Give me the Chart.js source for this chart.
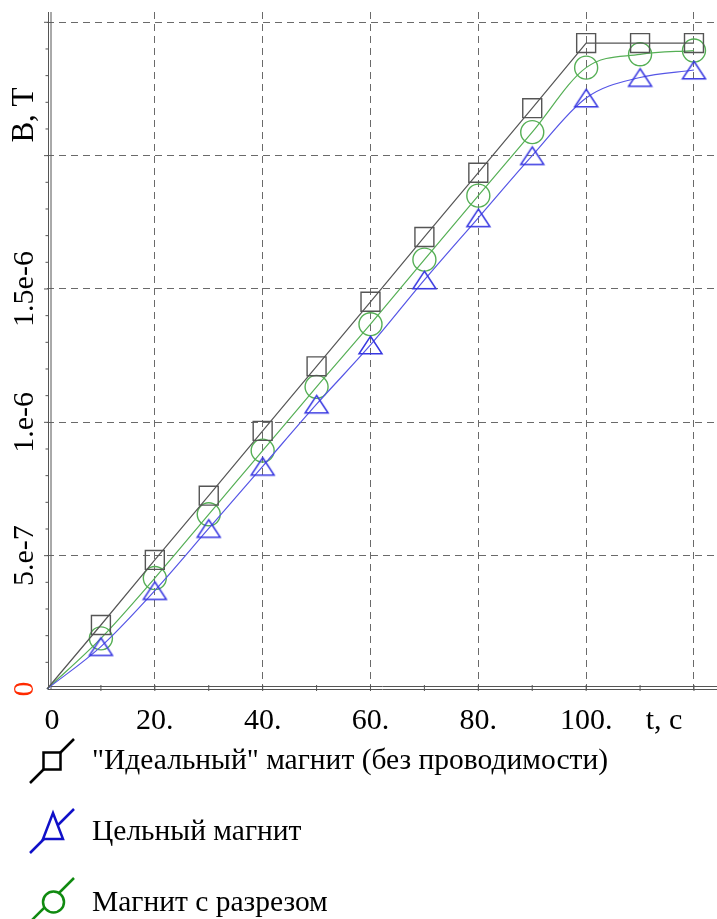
<!DOCTYPE html>
<html><head><meta charset="utf-8">
<script src="https://cdn.jsdelivr.net/npm/chart.js@4.4.0/dist/chart.umd.min.js"></script>
<style>html,body{margin:0;padding:0;background:#fff;overflow:hidden;}#wrap{width:717px;height:919px;position:relative;}canvas{display:block;}</style>
</head><body><div id="wrap"><canvas id="c" width="717" height="919"></canvas></div>
<script>
// ---- data ----
const times   = [0, 10, 20, 30, 40, 50, 60, 70, 80, 90, 100, 110, 120];
const idealB  = [0, 2.40e-7, 4.84e-7, 7.25e-7, 9.68e-7, 1.21e-6, 1.452e-6, 1.695e-6, 1.936e-6, 2.178e-6, 2.422e-6, 2.422e-6, 2.422e-6];
const solidB  = [0, 1.59e-7, 3.69e-7, 6.02e-7, 8.35e-7, 1.068e-6, 1.29e-6, 1.534e-6, 1.767e-6, 2.0e-6, 2.216e-6, 2.293e-6, 2.321e-6];
const cutB    = [0, 1.90e-7, 4.16e-7, 6.55e-7, 8.94e-7, 1.133e-6, 1.368e-6, 1.61e-6, 1.85e-6, 2.088e-6, 2.33e-6, 2.38e-6, 2.394e-6];
const xTickValues = [0, 20, 40, 60, 80, 100, 120];
const xTickLabels = ['0', '20.', '40.', '60.', '80.', '100.', 't, c'];
const yTickValues = [0, 5e-7, 1e-6, 1.5e-6, 2e-6, 2.5e-6];
const yTickLabels = ['0', '5.e-7', '1.e-6', '1.5e-6', '', ''];
const yAxisTitle = 'B, T';
const seriesNames = ['"Идеальный" магнит (без проводимости)', 'Цельный магнит', 'Магнит с разрезом'];

const SERIF = '"Liberation Serif", "DejaVu Serif", serif';
const toXY = arr => arr.map((v, i) => ({x: times[i], y: v}));
const radii = r => times.map((t, i) => i === 0 ? 0 : r);

// open triangle marker, centred on its bounding box
function makeTriangle(w, h, color) {
  const c = document.createElement('canvas');
  c.width = Math.ceil(w + 4); c.height = Math.ceil(h + 4);
  const g = c.getContext('2d');
  const cx = c.width / 2, cy = c.height / 2;
  g.strokeStyle = color; g.lineWidth = 1.5;
  g.beginPath();
  g.moveTo(cx, cy - h / 2); g.lineTo(cx + w / 2, cy + h / 2); g.lineTo(cx - w / 2, cy + h / 2); g.closePath();
  g.stroke();
  return c;
}
const triMarker = makeTriangle(23, 17.5, 'rgb(55,55,225)');

const gridColor = ctx => (ctx.tick && ctx.tick.value === 0) ? 'rgba(0,0,0,0)' : '#6a6a6a';

const axesPlugin = {
  id: 'axesPlugin',
  beforeDatasetsDraw(chart) {
    const {ctx, scales: {x, y}, chartArea: a} = chart;
    const x0 = x.getPixelForValue(0), y0 = y.getPixelForValue(0);
    ctx.save();
    ctx.strokeStyle = '#555';
    ctx.lineWidth = 1;
    ctx.beginPath();
    ctx.moveTo(x0 + 1.5, a.top); ctx.lineTo(x0 + 1.5, y0 + 1);
    ctx.moveTo(x0 + 4, a.top); ctx.lineTo(x0 + 4, y0 + 1);
    ctx.moveTo(x0 + 1, y0 - 2.5); ctx.lineTo(a.right, y0 - 2.5);
    ctx.moveTo(x0 + 1, y0 + 0.5); ctx.lineTo(a.right, y0 + 0.5);
    for (let k = 1; k <= 25; k++) {
      const py = y.getPixelForValue(k * 1e-7);
      const major = k % 5 === 0;
      ctx.moveTo(x0 - (major ? 3 : 1.5), py); ctx.lineTo(x0 + 1.5, py);
    }
    for (let t = 10; t <= 120; t += 10) {
      const px = x.getPixelForValue(t);
      ctx.moveTo(px, y0 - 4); ctx.lineTo(px, y0 + 2);
    }
    ctx.stroke();
    ctx.restore();
  },
  afterDraw(chart) {
    const {ctx, scales: {x, y}} = chart;
    ctx.save();
    ctx.font = '30px ' + SERIF;
    ctx.textAlign = 'center';
    ctx.textBaseline = 'middle';
    yTickValues.forEach((v, i) => {
      const lab = yTickLabels[i];
      if (!lab) return;
      const py = y.getPixelForValue(v);
      ctx.save();
      ctx.translate(23, py);
      ctx.rotate(-Math.PI / 2);
      ctx.fillStyle = v === 0 ? '#ff2a00' : '#000';
      ctx.fillText(lab, 0, 2);
      ctx.restore();
    });
    ctx.save();
    ctx.translate(23, 115);
    ctx.rotate(-Math.PI / 2);
    ctx.fillStyle = '#000';
    ctx.font = '31px ' + SERIF;
    ctx.fillText(yAxisTitle, 0, 2);
    ctx.restore();
    ctx.fillStyle = '#000';
    ctx.textBaseline = 'alphabetic';
    xTickValues.forEach((v, i) => {
      const shift = v === 0 ? 5 : (i === xTickValues.length - 1 ? -30 : 0);
      ctx.fillText(xTickLabels[i], x.getPixelForValue(v) + shift, 729);
    });

    const items = [
      {name: seriesNames[0], color: '#000', shape: 'rect', y: 761, base: 769},
      {name: seriesNames[1], color: '#1010c8', shape: 'tri', y: 831, base: 840},
      {name: seriesNames[2], color: '#108a10', shape: 'circ', y: 900, base: 911}
    ];
    items.forEach(it => {
      ctx.strokeStyle = it.color;
      ctx.lineWidth = 2.5;
      ctx.beginPath();
      ctx.moveTo(30, it.y + 22); ctx.lineTo(74, it.y - 22);
      ctx.stroke();
      ctx.fillStyle = '#fff';
      ctx.beginPath();
      if (it.shape === 'rect') {
        ctx.rect(43.5, it.y - 8.5, 17, 17);
      } else if (it.shape === 'tri') {
        ctx.moveTo(53, it.y - 18); ctx.lineTo(63, it.y + 8); ctx.lineTo(43, it.y + 8); ctx.closePath();
      } else {
        ctx.arc(53.5, it.y + 2, 10.5, 0, Math.PI * 2);
      }
      ctx.fill();
      ctx.stroke();
      ctx.fillStyle = '#000';
      ctx.textAlign = 'left';
      ctx.textBaseline = 'alphabetic';
      ctx.font = '29.5px ' + SERIF;
      ctx.fillText(it.name, 92, it.base);
    });
    ctx.restore();
  }
};

new Chart(document.getElementById('c'), {
  type: 'line',
  data: {
    datasets: [
      {
        label: seriesNames[0], data: toXY(idealB), clip: false,
        borderColor: '#555', borderWidth: 1.2, tension: 0,
        pointStyle: 'rect', pointRadius: radii(13.4), pointBorderColor: '#555',
        pointBackgroundColor: 'rgba(0,0,0,0)', pointBorderWidth: 1.4
      },
      {
        label: seriesNames[1], data: toXY(solidB), clip: false,
        borderColor: 'rgb(85,85,230)', borderWidth: 1.2, cubicInterpolationMode: 'monotone',
        pointStyle: triMarker, pointRadius: radii(12),
        pointBackgroundColor: 'rgba(0,0,0,0)'
      },
      {
        label: seriesNames[2], data: toXY(cutB), clip: false,
        borderColor: 'rgb(85,175,85)', borderWidth: 1.2, cubicInterpolationMode: 'monotone',
        pointStyle: 'circle', pointRadius: radii(11.5), pointBorderColor: 'rgb(85,175,85)',
        pointBackgroundColor: 'rgba(0,0,0,0)', pointBorderWidth: 1.4
      }
    ]
  },
  options: {
    responsive: false, devicePixelRatio: 1, animation: false,
    layout: {autoPadding: false, padding: {left: 47, top: 12, right: 0, bottom: 230}},
    plugins: {legend: {display: false}, tooltip: {enabled: false}},
    scales: {
      x: {
        type: 'linear', min: 0, max: 124.27,
        afterBuildTicks: s => { s.ticks = xTickValues.map(v => ({value: v})); },
        ticks: {display: false},
        grid: {color: gridColor, lineWidth: 1, drawTicks: false},
        border: {display: false, dash: [7, 5]}
      },
      y: {
        type: 'linear', min: 0, max: 2.5386e-6,
        afterBuildTicks: s => { s.ticks = yTickValues.map(v => ({value: v})); },
        ticks: {display: false},
        grid: {color: gridColor, lineWidth: 1, drawTicks: false},
        border: {display: false, dash: [7, 5]}
      }
    }
  },
  plugins: [axesPlugin]
});
</script>
</body></html>
